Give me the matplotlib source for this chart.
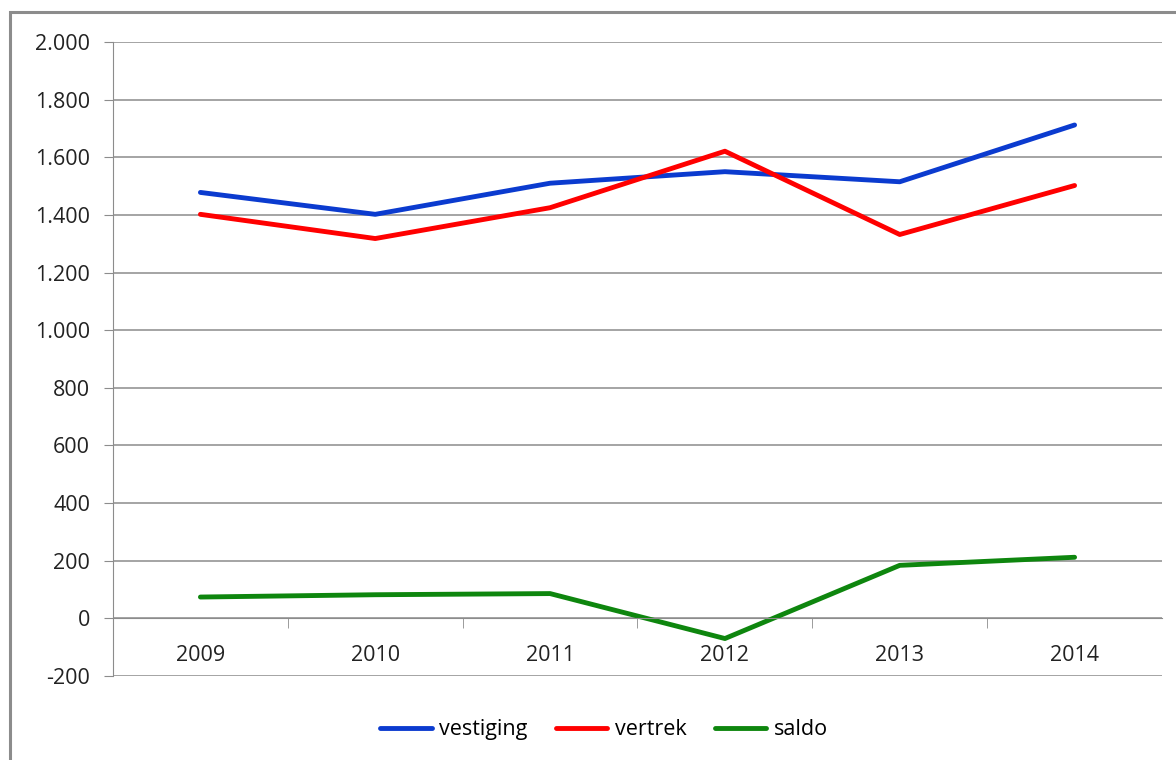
import matplotlib
matplotlib.use("Agg")
from matplotlib import pyplot as plt
from matplotlib.patches import Rectangle
from matplotlib.ticker import FuncFormatter, FixedLocator
import numpy as np

# data
jaren = ["2009", "2010", "2011", "2012", "2013", "2014"]
vestiging = [1478, 1402, 1510, 1550, 1515, 1712]
vertrek = [1402, 1318, 1425, 1621, 1332, 1502]
saldo = [74, 82, 86, -70, 184, 212]

plt.rcParams["font.family"] = ["Open Sans", "DejaVu Sans"]
grijs = "#8c8c8c"
fs = 15.5

fig = plt.figure(figsize=(11.76, 7.6), dpi=100)
ax = fig.add_axes([113/1176, 1 - 676/760, (1162 - 113)/1176, (676 - 42)/760])

x = np.arange(len(jaren))
ax.plot(x, vestiging, color="#0B3BCF", lw=3.5, solid_capstyle="round", label="vestiging")
ax.plot(x, vertrek, color="#FF0000", lw=3.5, solid_capstyle="round", label="vertrek")
ax.plot(x, saldo, color="#0E860E", lw=3.5, solid_capstyle="round", label="saldo")

ax.set_xlim(-0.5, len(jaren) - 0.5)
ax.set_ylim(-200, 2000)
ax.set_yticks(np.arange(-200, 2001, 200))
ax.yaxis.set_major_formatter(FuncFormatter(lambda v, p: f"{int(v):,}".replace(",", ".")))
ax.grid(axis="y", color=grijs, lw=1.1)
ax.set_axisbelow(True)

# x-as op de nullijn
ax.spines["bottom"].set_position(("data", 0))
ax.spines["bottom"].set_color(grijs)
ax.spines["left"].set_color(grijs)
ax.spines["top"].set_visible(False)
ax.spines["right"].set_visible(False)
ax.set_xticks(x)
ax.set_xticklabels(jaren)
ax.xaxis.set_minor_locator(FixedLocator(np.arange(0.5, len(jaren) - 0.5, 1)))
ax.tick_params(axis="x", which="major", length=0, pad=19, labelsize=fs, colors="#222222")
ax.tick_params(axis="x", which="minor", length=7, color=grijs, direction="out")
ax.tick_params(axis="y", length=6.5, color=grijs, labelsize=fs, labelcolor="#222222", pad=10)

ax.legend(loc="center", bbox_to_anchor=(0.468, -0.085), ncol=3, frameon=False, fontsize=fs,
          handlelength=2.4, handletextpad=0.35, columnspacing=1.3)

# rand rond de grafiek
fig.patches.append(Rectangle((10/1176, -0.1), 1.2, 1 - 12/760 + 0.1, transform=fig.transFigure,
                             fill=False, edgecolor=grijs, lw=2.2))

plt.savefig("out.png", dpi=100)
plt.close()
